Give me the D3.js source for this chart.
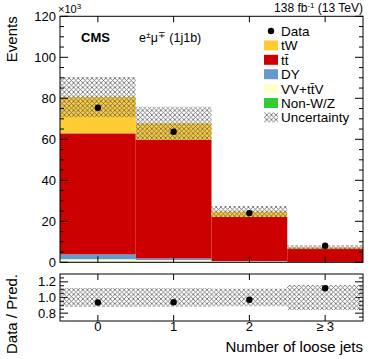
<!DOCTYPE html>
<html>
<head>
<meta charset="UTF-8" />
<title>Number of loose jets</title>
<script src="https://d3js.org/d3.v7.min.js"></script>
<style>
body { margin: 0; background: white; }
svg { font-family: "Liberation Sans", Arial, Helvetica, sans-serif; }
</style>
</head>
<body>
<svg id="svg1" width="374" height="359"></svg>
<script>
// bins and yields (in units of 10^3 events)
var bins = ["0", "1", "2", "\u2265 3"];
var nonWZ = [0.3, 0.2, 0.15, 0.05];
var vvttv = [1.2, 0.9, 0.3, 0.1];
var dy    = [2.4, 0.8, 0.2, 0.05];
var ttbar = [59.0, 57.8, 21.55, 6.55];
var tw    = [17.7, 8.1, 2.5, 0.5];
var data  = [75.4, 63.7, 24.0, 8.1];
var unc   = [9.8, 8.1, 2.8, 1.15];

var yTicks = [0, 20, 40, 60, 80, 100, 120];
var rTicks = [0.8, 1.0, 1.2];

// stack order bottom -> top
var keys = ["nonWZ", "vvttv", "dy", "ttbar", "tw"];
var colors = { nonWZ: "#33cc33", vvttv: "#ffffcc", dy: "#6699cc", ttbar: "#cc0000", tw: "#ffcc33" };

var table = bins.map(function(b, i) {
    return { bin: i, nonWZ: nonWZ[i], vvttv: vvttv[i], dy: dy[i], ttbar: ttbar[i], tw: tw[i] };
});
var totals = table.map(function(d) { return d3.sum(keys, function(k) { return d[k]; }); });

var svg = d3.select("#svg1");
var L = 60, R = 363, T = 16.3, B = 262.3, RT = 274, RB = 321;

var x = d3.scaleLinear().domain([-0.5, 3.5]).range([L, R]);
var y = d3.scaleLinear().domain([0, 120]).range([B, T]);
var yr = d3.scaleLinear().domain([0.7, 1.3]).range([RB, RT]);

// hatch pattern for uncertainty (cross hatch)
var defs = svg.append("defs");
var pat = defs.append("pattern").attr("id", "hatch").attr("patternUnits", "userSpaceOnUse")
    .attr("width", 4.6).attr("height", 4.6);
pat.append("path").attr("d", "M0,0L4.6,4.6M4.6,0L0,4.6")
    .attr("stroke", "#666").attr("stroke-width", 0.8).attr("fill", "none");

// stacked histogram
var series = d3.stack().keys(keys)(table);
svg.append("g").selectAll("g").data(series).enter().append("g")
    .attr("fill", function(s) { return colors[s.key]; })
    .selectAll("rect").data(function(s) { return s; }).enter().append("rect")
    .attr("x", function(d) { return x(d.data.bin - 0.5); })
    .attr("width", function(d) { return x(d.data.bin + 0.5) - x(d.data.bin - 0.5); })
    .attr("y", function(d) { return y(d[1]); })
    .attr("height", function(d) { return Math.max(0, y(d[0]) - y(d[1])); });

// uncertainty band
svg.append("g").selectAll("rect").data(totals).enter().append("rect")
    .attr("x", function(d, i) { return x(i - 0.5); })
    .attr("width", function(d, i) { return x(i + 0.5) - x(i - 0.5); })
    .attr("y", function(d, i) { return y(d + unc[i]); })
    .attr("height", function(d, i) { return y(d - unc[i]) - y(d + unc[i]); })
    .attr("fill", "url(#hatch)");

// data points
svg.append("g").selectAll("circle").data(data).enter().append("circle")
    .attr("cx", function(d, i) { return x(i); })
    .attr("cy", function(d) { return y(d); })
    .attr("r", 3.2).attr("fill", "black");

// frame and ticks
function frame(top, bottom, ys, major, minor) {
    var g = svg.append("g").attr("stroke", "black").attr("stroke-width", 1).attr("fill", "none");
    g.append("rect").attr("x", L).attr("y", top).attr("width", R - L).attr("height", bottom - top);
    major.forEach(function(v) {
        g.append("line").attr("x1", L).attr("x2", L + 8).attr("y1", ys(v)).attr("y2", ys(v));
        g.append("line").attr("x1", R).attr("x2", R - 8).attr("y1", ys(v)).attr("y2", ys(v));
    });
    minor.forEach(function(v) {
        g.append("line").attr("x1", L).attr("x2", L + 4).attr("y1", ys(v)).attr("y2", ys(v));
        g.append("line").attr("x1", R).attr("x2", R - 4).attr("y1", ys(v)).attr("y2", ys(v));
    });
    bins.forEach(function(b, i) {
        g.append("line").attr("x1", x(i)).attr("x2", x(i)).attr("y1", bottom).attr("y2", bottom - 6);
        g.append("line").attr("x1", x(i)).attr("x2", x(i)).attr("y1", top).attr("y2", top + 6);
    });
}
var yMinor = d3.range(0, 121, 5).filter(function(v) { return v % 20 != 0; });
frame(T, B, y, yTicks, yMinor);
var rMinor = [0.75, 0.85, 0.9, 0.95, 1.05, 1.1, 1.15, 1.25];
frame(RT, RB, yr, rTicks, rMinor);

// tick labels
svg.append("g").selectAll("text").data(yTicks).enter().append("text")
    .attr("x", L - 4).attr("y", function(d) { return y(d) + 4.6; })
    .attr("text-anchor", "end").attr("font-size", 13).text(function(d) { return d; });
svg.append("g").selectAll("text").data(rTicks).enter().append("text")
    .attr("x", L - 4).attr("y", function(d) { return yr(d) + 4.6; })
    .attr("text-anchor", "end").attr("font-size", 13).text(function(d) { return d.toFixed(1); });
svg.append("g").selectAll("text").data(bins).enter().append("text")
    .attr("x", function(d, i) { return x(i); }).attr("y", 331)
    .attr("text-anchor", "middle").attr("font-size", 13).text(function(d) { return d; });

// ratio band and points
svg.append("g").selectAll("rect").data(totals).enter().append("rect")
    .attr("x", function(d, i) { return x(i - 0.5); })
    .attr("width", function(d, i) { return x(i + 0.5) - x(i - 0.5); })
    .attr("y", function(d, i) { return yr(1 + unc[i] / d); })
    .attr("height", function(d, i) { return yr(1 - unc[i] / d) - yr(1 + unc[i] / d); })
    .attr("fill", "url(#hatch)");
svg.append("g").selectAll("circle").data(data).enter().append("circle")
    .attr("cx", function(d, i) { return x(i); })
    .attr("cy", function(d, i) { return yr(d / totals[i]); })
    .attr("r", 3.2).attr("fill", "black");

// axis titles
svg.append("text").attr("transform", "translate(17," + T + ") rotate(-90)")
    .attr("text-anchor", "end").attr("font-size", 15).text("Events");
svg.append("text").attr("transform", "translate(17," + RT + ") rotate(-90)")
    .attr("text-anchor", "end").attr("font-size", 15).text("Data / Pred.");
svg.append("text").attr("x", R).attr("y", 352).attr("text-anchor", "end")
    .attr("font-size", 15).text("Number of loose jets");

// x10^3
var e3 = svg.append("text").attr("x", L - 2).attr("y", 13).attr("font-size", 11);
e3.append("tspan").text("\u00d710");
e3.append("tspan").attr("dy", -4).attr("font-size", 8).text("3");

// lumi label
var lumi = svg.append("text").attr("x", R).attr("y", 12).attr("text-anchor", "end").attr("font-size", 12);
lumi.append("tspan").text("138 fb");
lumi.append("tspan").attr("dy", -4).attr("font-size", 8).text("-1");
lumi.append("tspan").attr("dy", 4).text(" (13 TeV)");

// CMS + channel
svg.append("text").attr("x", 81).attr("y", 42).attr("font-size", 13).attr("font-weight", "bold").text("CMS");
var ch = svg.append("text").attr("x", 139).attr("y", 42).attr("font-size", 12.5);
ch.append("tspan").text("e");
ch.append("tspan").attr("dy", -4).attr("font-size", 8.5).text("\u00b1");
ch.append("tspan").attr("dy", 4).text("\u03bc");
ch.append("tspan").attr("dy", -4).attr("font-size", 8.5).text("\u2213");
ch.append("tspan").attr("dy", 4).text(" (1j1b)");

// legend
var legNames = ["Data", "tW", "tt\u0304", "DY", "VV+tt\u0304V", "Non-W/Z", "Uncertainty"];
var legFill = [null, colors.tw, colors.ttbar, colors.dy, colors.vvttv, colors.nonWZ, "url(#hatch)"];
var leg = svg.append("g");
legNames.forEach(function(n, i) {
    var yy = 31 + i * 14.4;
    if (i == 0) {
        leg.append("circle").attr("cx", 271).attr("cy", yy).attr("r", 3.2).attr("fill", "black");
    } else {
        leg.append("rect").attr("x", 264).attr("y", yy - 5).attr("width", 14).attr("height", 10)
            .attr("fill", legFill[i]);
    }
    leg.append("text").attr("x", 281).attr("y", yy + 5).attr("font-size", 13.5).text(n);
});
</script>
</body>
</html>
